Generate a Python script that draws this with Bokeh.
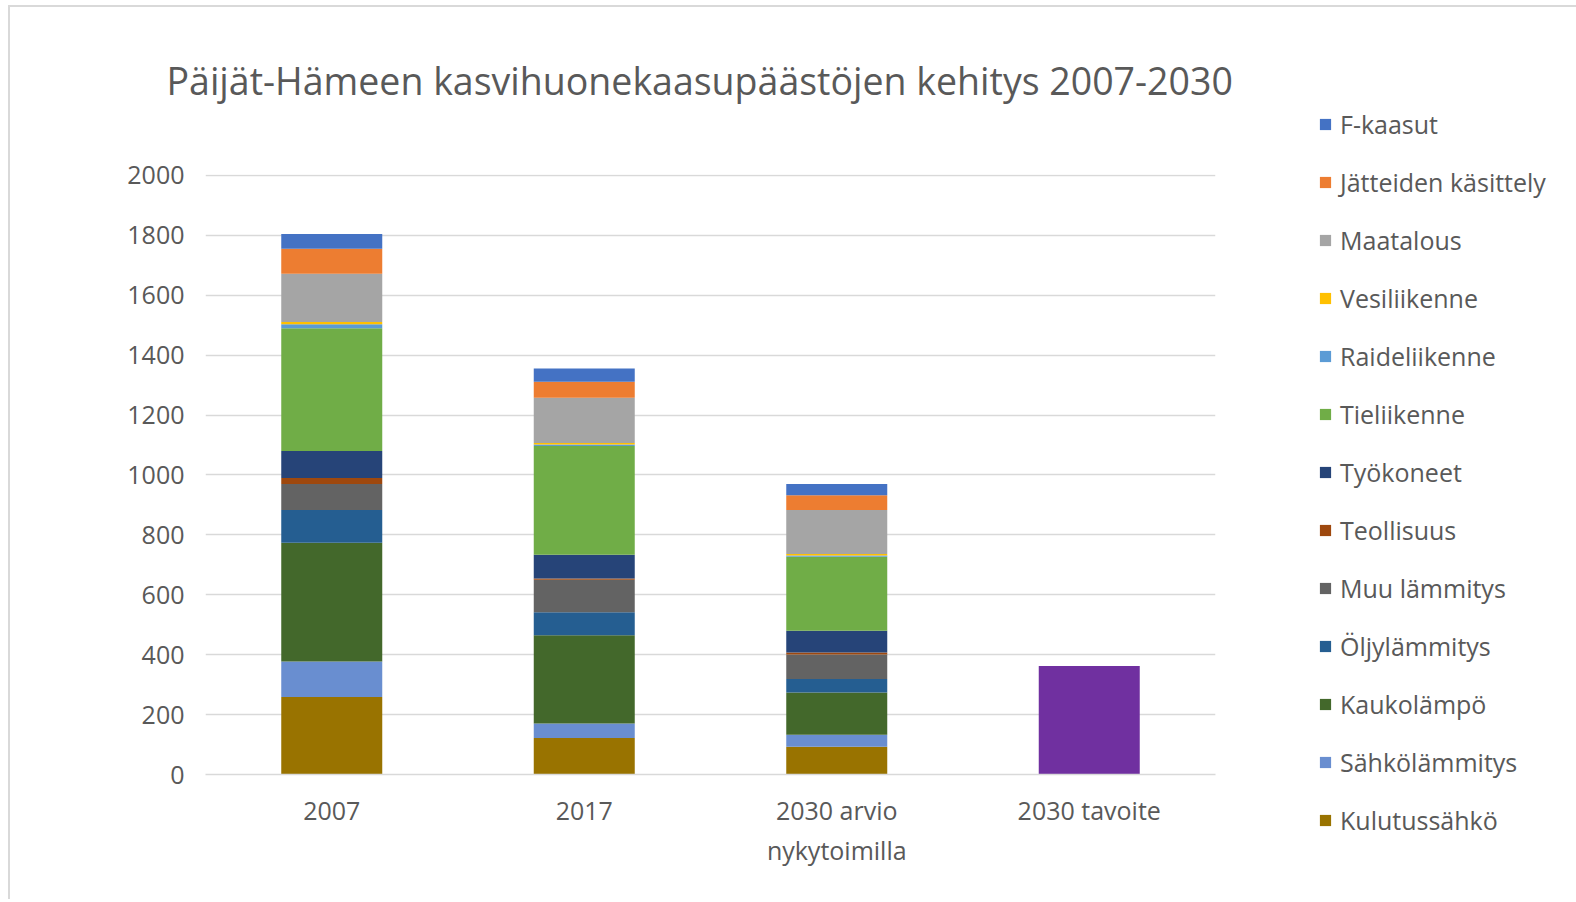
from bokeh.plotting import figure
from bokeh.models import ColumnDataSource, Legend, LegendItem, FactorRange, Title
from bokeh.embed import file_html
from bokeh.resources import INLINE

categories = ["2007", "2017", "2030 arvio\nnykytoimilla", "2030 tavoite"]

series_names = ["Kulutussähkö", "Sähkölämmitys", "Kaukolämpö", "Öljylämmitys",
                "Muu lämmitys", "Teollisuus", "Työkoneet", "Tieliikenne",
                "Raideliikenne", "Vesiliikenne", "Maatalous",
                "Jätteiden käsittely", "F-kaasut"]

kulutussahko = [259, 122, 93, 0]
sahkolammitys = [118, 48, 40, 0]
kaukolampo = [397, 295, 141, 0]
oljylammitys = [109, 77, 45, 0]
muu_lammitys = [87, 108, 82, 0]
teollisuus = [20, 4, 6, 0]
tyokoneet = [90, 80, 73, 0]
tieliikenne = [410, 363, 247, 0]
raideliikenne = [13, 5, 4, 0]
vesiliikenne = [8, 5, 5, 0]
maatalous = [161, 151, 147, 0]
jatteiden = [83, 53, 49, 0]
f_kaasut = [49, 44, 38, 0]
tavoite = [0, 0, 0, 362]

y_ticks = [0, 200, 400, 600, 800, 1000, 1200, 1400, 1600, 1800, 2000]

colors = ["#997300", "#698ED0", "#43682B", "#255E91", "#636363", "#9E480E",
          "#264478", "#70AD47", "#5B9BD5", "#FFC000", "#A5A5A5", "#ED7D31",
          "#4472C4"]
tavoite_color = "#7030A0"

values_list = [kulutussahko, sahkolammitys, kaukolampo, oljylammitys,
               muu_lammitys, teollisuus, tyokoneet, tieliikenne,
               raideliikenne, vesiliikenne, maatalous, jatteiden, f_kaasut]

keys = ["s%d" % i for i in range(len(series_names))]
data = {"cat": categories, "tavoite": tavoite}
for k, v in zip(keys, values_list):
    data[k] = v
source = ColumnDataSource(data)

FONT = "Open Sans"
TXT = "#595959"

p = figure(x_range=FactorRange(*categories), y_range=(0, 2003),
           frame_width=1010, frame_height=600, output_backend="svg",
           toolbar_location=None, min_border_left=195, min_border_right=0,
           min_border_top=167, min_border_bottom=125, title=None)
p.styles = {"border-left": "2px solid #d9d9d9", "border-top": "2px solid #d9d9d9",
            "margin-left": "8px", "margin-top": "5px"}
p.outline_line_color = None
p.background_fill_color = "white"
p.border_fill_color = "white"

renderers = p.vbar_stack(keys, x="cat", width=0.4, source=source,
                         color=colors, line_color=None)
p.vbar(x="cat", top="tavoite", width=0.4, source=source,
       color=tavoite_color, line_color=None)

items = [LegendItem(label=n, renderers=[r]) for n, r in zip(series_names, renderers)]
items = items[::-1]
legend = Legend(items=items, location=(103, -63),
                label_text_font=FONT, label_text_font_size="25px",
                label_text_color=TXT, glyph_width=14, glyph_height=14,
                label_height=34, spacing=24, label_standoff=8,
                padding=0, margin=0, border_line_color=None,
                background_fill_alpha=0)
p.add_layout(legend, "right")

# spacer between title and plot area (inner), then the title (outer)
spacer = Title(text=" ", text_font_size="1px", standoff=61)
p.add_layout(spacer, "above")
title = Title(text="Päijät-Hämeen kasvihuonekaasupäästöjen kehitys 2007-2030",
              align="left", offset=-39, text_font=FONT, text_font_size="37.5px",
              text_color=TXT, text_font_style="normal", standoff=10)
p.add_layout(title, "above")

p.ygrid.grid_line_color = "#d9d9d9"
p.ygrid.grid_line_width = 1.5
p.xgrid.grid_line_color = None

p.yaxis.ticker = y_ticks
p.yaxis.axis_line_color = None
p.yaxis.major_tick_line_color = None
p.yaxis.minor_tick_line_color = None
p.yaxis.major_label_text_font = FONT
p.yaxis.major_label_text_font_size = "25px"
p.yaxis.major_label_text_color = TXT
p.yaxis.major_label_standoff = 15

p.xaxis.axis_line_color = "#d9d9d9"
p.xaxis.axis_line_width = 1.5
p.xaxis.major_tick_line_color = None
p.xaxis.minor_tick_line_color = None
p.xaxis.major_label_text_font = FONT
p.xaxis.major_label_text_font_size = "25px"
p.xaxis.major_label_text_color = TXT
p.xaxis.major_label_standoff = 12

open("out.html", "w").write(file_html(p, INLINE))
